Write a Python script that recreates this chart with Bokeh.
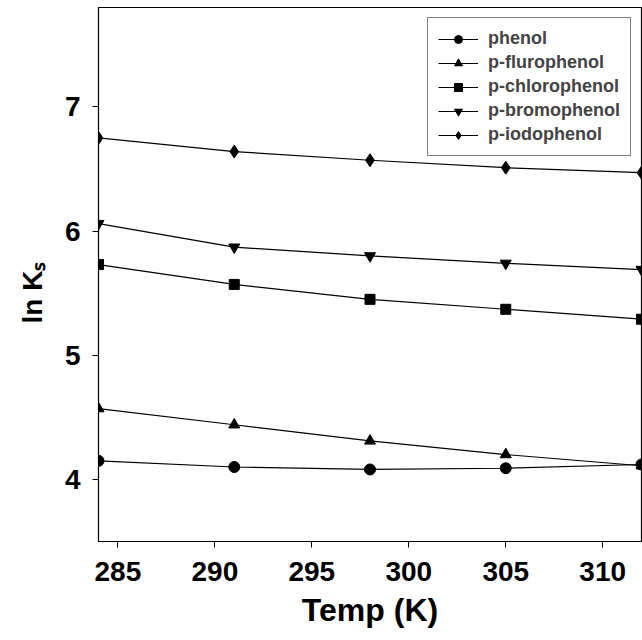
from bokeh.plotting import figure
from bokeh.models import Legend, LegendItem, FixedTicker, Range1d, Title
from bokeh.embed import file_html
from bokeh.resources import INLINE

temps = [284, 291, 298, 305, 312]
phenol = [4.15, 4.10, 4.08, 4.09, 4.12]
p_fluoro = [4.57, 4.44, 4.31, 4.20, 4.11]
p_chloro = [5.73, 5.57, 5.45, 5.37, 5.29]
p_bromo = [6.06, 5.87, 5.80, 5.74, 5.69]
p_iodo = [6.75, 6.64, 6.57, 6.51, 6.47]
series_names = ["phenol", "p-flurophenol", "p-chlorophenol", "p-bromophenol", "p-iodophenol"]
series_values = [phenol, p_fluoro, p_chloro, p_bromo, p_iodo]
markers = ["circle", "triangle", "square", "inverted_triangle", "diamond"]
sizes = [11, 11, 10, 11, 13]
x_ticks = [285, 290, 295, 300, 305, 310]
y_ticks = [4, 5, 6, 7]

FONT = "Liberation Sans"

p = figure(width=642, height=640, output_backend="svg", toolbar_location=None,
           x_range=Range1d(284, 312), y_range=Range1d(3.5, 7.8),
           min_border_left=96, min_border_right=1, min_border_top=7, min_border_bottom=99)
p.grid.visible = False
p.outline_line_color = "black"
p.outline_line_width = 1.2
p.background_fill_color = "white"

for ax in (p.xaxis[0], p.yaxis[0]):
    ax.major_label_text_font = FONT
    ax.major_label_text_font_style = "bold"
    ax.major_label_text_font_size = "28px"
    ax.major_label_text_color = "black"
    ax.axis_line_color = "black"
    ax.major_tick_line_color = "black"
    ax.minor_tick_line_color = None
    ax.major_tick_in = 0
    ax.major_tick_out = 6

p.xaxis.ticker = FixedTicker(ticks=x_ticks)
p.yaxis.ticker = FixedTicker(ticks=y_ticks)
p.xaxis.major_label_standoff = 14
p.yaxis.major_label_standoff = 12
p.xaxis.axis_label = "Temp (K)"
p.xaxis.axis_label_text_font = FONT
p.xaxis.axis_label_text_font_style = "bold"
p.xaxis.axis_label_text_font_size = "32px"
p.xaxis.axis_label_text_color = "black"
p.xaxis.axis_label_standoff = 8
p.yaxis.axis_label = None

items = []
for name, vals, m, s in zip(series_names, series_values, markers, sizes):
    r1 = p.line(temps, vals, line_color="black", line_width=1.2)
    r2 = p.scatter(temps, vals, marker=m, size=s, fill_color="black", line_color="black")
    items.append(LegendItem(label=name, renderers=[r1, r2]))

legend = Legend(items=items, location="top_right", margin=10,
                border_line_color="black", border_line_width=1.2,
                label_text_font=FONT, label_text_font_style="bold",
                label_text_font_size="18px", glyph_width=40, glyph_height=20,
                label_height=20, spacing=3, padding=10, label_standoff=10,
                background_fill_alpha=1.0)
p.add_layout(legend)

y_title = Title(text="ln K\u209b", align="left", offset=218, standoff=28,
                text_font=FONT, text_font_style="bold", text_font_size="28px",
                text_color="black")
p.add_layout(y_title, "left")

open("out.html", "w").write(file_html(p, INLINE))
